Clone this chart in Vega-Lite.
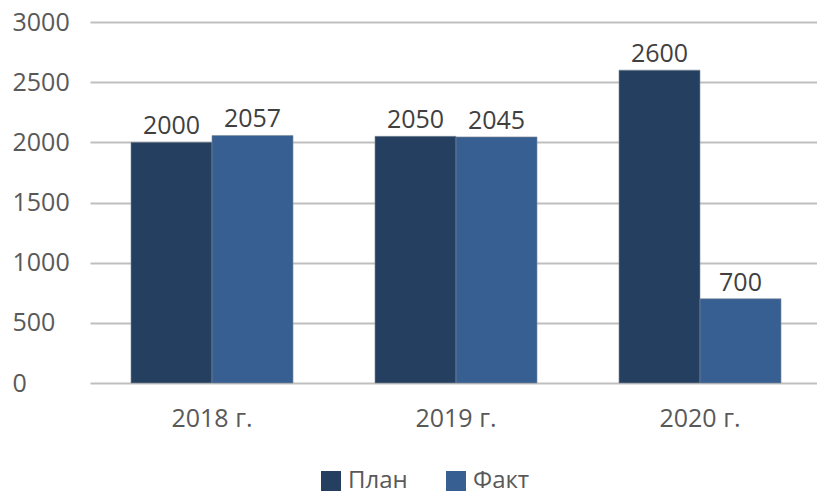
{
  "$schema": "https://vega.github.io/schema/vega-lite/v6.json",
  "autosize": "none",
  "padding": {"left": 90, "top": 22, "right": 0, "bottom": 112},
  "width": 732,
  "height": 361,
  "background": "white",
  "config": {
    "font": "Open Sans",
    "view": {"stroke": null}
  },
  "data": {
    "values": [
      {"year": "2018 г.", "series": "План", "value": 2000},
      {"year": "2018 г.", "series": "Факт", "value": 2057},
      {"year": "2019 г.", "series": "План", "value": 2050},
      {"year": "2019 г.", "series": "Факт", "value": 2045},
      {"year": "2020 г.", "series": "План", "value": 2600},
      {"year": "2020 г.", "series": "Факт", "value": 700}
    ]
  },
  "encoding": {
    "x": {
      "field": "year", "type": "nominal", "sort": null,
      "scale": {"paddingInner": 0.336, "paddingOuter": 0.168},
      "axis": {
        "title": null, "labelAngle": 0, "domain": false, "ticks": false,
        "labelFontSize": 25, "labelColor": "#595959", "labelPadding": 23
      }
    },
    "xOffset": {"field": "series", "type": "nominal", "scale": {"paddingInner": 0, "paddingOuter": 0}},
    "y": {
      "field": "value", "type": "quantitative",
      "scale": {"domain": [0, 3000], "nice": false},
      "axis": {
        "title": null, "values": [0, 500, 1000, 1500, 2000, 2500, 3000],
        "format": "d",
        "domain": false, "ticks": false, "tickSize": 0,
        "labelAlign": "left", "labelPadding": 78,
        "labelFontSize": 25, "labelColor": "#595959",
        "gridColor": "#bfbfbf", "gridWidth": 2
      }
    }
  },
  "layer": [
    {
      "mark": {"type": "bar", "stroke": "#7f8c99", "strokeWidth": 0.6},
      "encoding": {
        "color": {
          "field": "series", "type": "nominal",
          "scale": {"domain": ["План", "Факт"], "range": ["#243F60", "#375F92"]},
          "legend": {
            "title": null, "orient": "none", "direction": "horizontal",
            "legendX": 229, "legendY": 447,
            "symbolType": "square", "symbolSize": 400, "symbolStrokeWidth": 0,
            "labelFontSize": 24, "labelColor": "#595959", "columnPadding": 36,
            "labelOffset": 5
          }
        }
      }
    },
    {
      "mark": {"type": "text", "baseline": "alphabetic", "dy": -8, "fontSize": 25, "color": "#404040"},
      "encoding": {"text": {"field": "value", "type": "quantitative"}}
    }
  ]
}
